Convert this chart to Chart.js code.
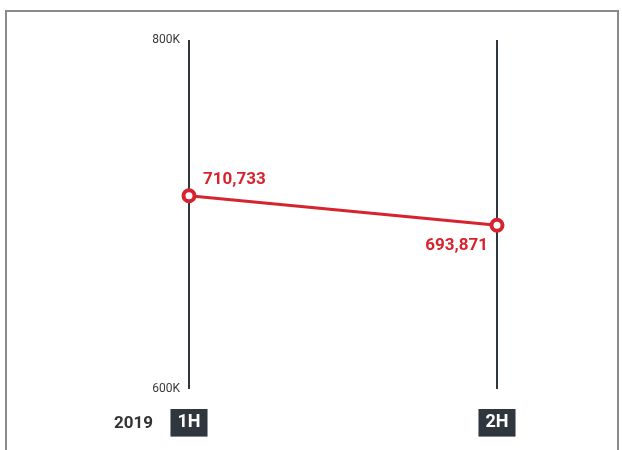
<!DOCTYPE html>
<html>
<head>
<meta charset="utf-8">
<script src="https://cdn.jsdelivr.net/npm/chart.js@4/dist/chart.umd.min.js"></script>
<style>
  html, body { margin: 0; padding: 0; background: #fff; }
  #wrap { position: relative; width: 622px; height: 450px; overflow: hidden; }
  #frame {
    position: absolute; left: 5px; top: 10px; width: 610px; height: 460px;
    border: 2px solid #8a8a8a; border-bottom: none;
  }
  #chart { position: absolute; left: 0; top: 0; }
</style>
</head>
<body>
<div id="wrap">
  <div id="frame"></div>
  <canvas id="chart" width="622" height="450"></canvas>
</div>
<script>
// ===============================
// DATA
// ===============================
const halves = ["1H", "2H"];
const sales2019 = [710733, 693871];
const yTickValues = [600000, 800000];
const yearLabel = "2019";

const RED = "#d7232d";
const DARK = "#30363d";
const FONT = "Roboto, 'Liberation Sans', sans-serif";

function fmtNumber(n) {
  return Number(n || 0).toLocaleString("en-US");
}

// ===============================
// PLUGINS
// ===============================
const valueLabels = {
  id: "valueLabels",
  afterDatasetsDraw(chart) {
    const ctx = chart.ctx;
    const meta = chart.getDatasetMeta(0);
    ctx.save();
    ctx.fillStyle = RED;
    ctx.font = "bold 17px " + FONT;
    meta.data.forEach((pt, i) => {
      const txt = fmtNumber(sales2019[i]);
      if (i === 0) {
        ctx.textAlign = "left";
        ctx.textBaseline = "alphabetic";
        ctx.fillText(txt, pt.x + 14, pt.y - 12);
      } else {
        ctx.textAlign = "right";
        ctx.textBaseline = "alphabetic";
        ctx.fillText(txt, pt.x - 9, pt.y + 25);
      }
    });
    ctx.restore();
  }
};

const yearTag = {
  id: "yearTag",
  afterDraw(chart) {
    const ctx = chart.ctx;
    const x = chart.scales.x.getPixelForValue(0);
    ctx.save();
    ctx.fillStyle = "#333";
    ctx.font = "bold 17px " + FONT;
    ctx.textAlign = "right";
    ctx.textBaseline = "alphabetic";
    ctx.fillText(yearLabel, x - 36, 428);
    ctx.restore();
  }
};

// ===============================
// CHART
// ===============================
new Chart(document.getElementById("chart"), {
  type: "line",
  data: {
    labels: halves,
    datasets: [{
      data: sales2019,
      borderColor: RED,
      borderWidth: 3,
      pointRadius: 5.5,
      pointBorderWidth: 4,
      pointBackgroundColor: "#fff",
      pointBorderColor: RED,
      tension: 0
    }]
  },
  options: {
    responsive: false,
    animation: false,
    layout: { padding: { left: 0, top: 40, right: 125, bottom: 0 } },
    plugins: { legend: { display: false }, tooltip: { enabled: false } },
    scales: {
      x: {
        offset: false,
        afterFit: s => { s.height = 61; },
        border: { display: false },
        grid: { color: DARK, lineWidth: 2, drawTicks: false },
        ticks: {
          color: "#fff",
          font: { family: FONT, size: 18, weight: "bold" },
          padding: 23,
          showLabelBackdrop: true,
          backdropColor: DARK,
          backdropPadding: { x: 7, y: 3 }
        }
      },
      y: {
        min: 600000,
        max: 800000,
        afterFit: s => { s.width = 189; },
        afterBuildTicks: s => { s.ticks = yTickValues.map(v => ({ value: v })); },
        border: { display: false },
        grid: { display: false, drawTicks: false },
        ticks: {
          color: "#3a3a3a",
          font: { family: FONT, size: 12 },
          padding: 9,
          callback: v => (v / 1000) + "K"
        }
      }
    }
  },
  plugins: [valueLabels, yearTag]
});
</script>
</body>
</html>
